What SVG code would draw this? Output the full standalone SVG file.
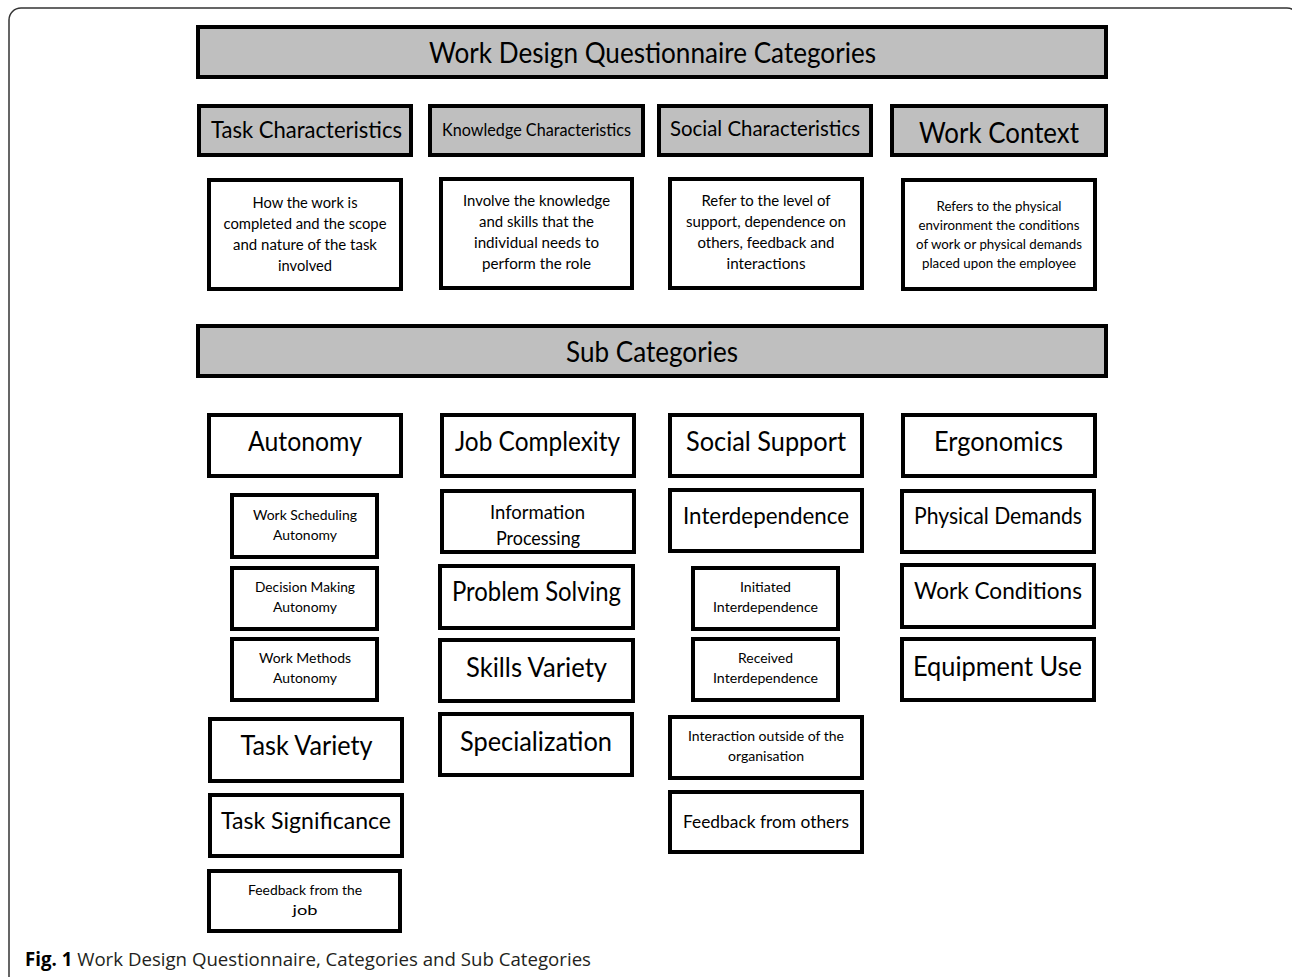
<svg xmlns="http://www.w3.org/2000/svg" width="1292" height="977" viewBox="0 0 1292 977">
<style>
.hdr{fill:#bfbfbf;stroke:#000;stroke-width:4}
.box{fill:#fff;stroke:#000;stroke-width:4}
text{font-family:Lato,"Liberation Sans",sans-serif;fill:#000;text-anchor:middle}
.t28{font-size:28px}
.t26{font-size:26px}
.t24{font-size:24px}
.t22{font-size:22px}
.t19{font-size:19px}
.t18{font-size:18px}
.t15{font-size:15.5px}
.t14{font-size:14px}
.cap{font-family:"Open Sans","Noto Sans",sans-serif;font-size:19px;text-anchor:start;fill:#231f20}
</style>
<rect x="9" y="8" width="1290" height="985" rx="12" fill="none" stroke="#333" stroke-width="1.5"/>
<g id="connectors"></g>

<g id="title"><rect class="hdr" x="198" y="27" width="908" height="50"/><text class="t28" x="652.5" y="63" textLength="447" lengthAdjust="spacingAndGlyphs">Work Design Questionnaire Categories</text></g>

<g id="task-char"><rect class="hdr" x="199" y="106" width="212" height="49"/><text class="t24" x="306.5" y="138" textLength="191" lengthAdjust="spacingAndGlyphs">Task Characteristics</text></g>
<g id="knowledge-char"><rect class="hdr" x="430" y="106" width="213" height="49"/><text class="t18" x="536.5" y="136" textLength="189" lengthAdjust="spacingAndGlyphs">Knowledge Characteristics</text></g>
<g id="social-char"><rect class="hdr" x="659" y="106" width="212" height="49"/><text class="t22" x="765" y="136" textLength="190" lengthAdjust="spacingAndGlyphs">Social Characteristics</text></g>
<g id="work-context"><rect class="hdr" x="892" y="106" width="214" height="49"/><text class="t28" x="999" y="143" textLength="160" lengthAdjust="spacingAndGlyphs">Work Context</text></g>

<g id="task-desc"><rect class="box" x="209" y="180" width="192" height="109"/>
<text class="t15" x="305" y="208" textLength="105" lengthAdjust="spacingAndGlyphs">How the work is</text>
<text class="t15" x="305" y="229" textLength="163" lengthAdjust="spacingAndGlyphs">completed and the scope</text>
<text class="t15" x="305" y="250" textLength="144" lengthAdjust="spacingAndGlyphs">and nature of the task</text>
<text class="t15" x="305" y="271" textLength="54" lengthAdjust="spacingAndGlyphs">involved</text></g>
<g id="knowledge-desc"><rect class="box" x="441" y="179" width="191" height="109"/>
<text class="t15" x="536.5" y="206" textLength="147" lengthAdjust="spacingAndGlyphs">Involve the knowledge</text>
<text class="t15" x="536.5" y="227" textLength="115" lengthAdjust="spacingAndGlyphs">and skills that the</text>
<text class="t15" x="536.5" y="248" textLength="125" lengthAdjust="spacingAndGlyphs">individual needs to</text>
<text class="t15" x="536.5" y="269" textLength="109" lengthAdjust="spacingAndGlyphs">perform the role</text></g>
<g id="social-desc"><rect class="box" x="670" y="179" width="192" height="109"/>
<text class="t15" x="766" y="206" textLength="129" lengthAdjust="spacingAndGlyphs">Refer to the level of</text>
<text class="t15" x="766" y="227" textLength="160" lengthAdjust="spacingAndGlyphs">support, dependence on</text>
<text class="t15" x="766" y="248" textLength="137" lengthAdjust="spacingAndGlyphs">others, feedback and</text>
<text class="t15" x="766" y="269" textLength="79" lengthAdjust="spacingAndGlyphs">interactions</text></g>
<g id="context-desc"><rect class="box" x="903" y="180" width="192" height="109"/>
<text class="t14" x="999" y="211" textLength="125" lengthAdjust="spacingAndGlyphs">Refers to the physical</text>
<text class="t14" x="999" y="230" textLength="161" lengthAdjust="spacingAndGlyphs">environment the conditions</text>
<text class="t14" x="999" y="249" textLength="166" lengthAdjust="spacingAndGlyphs">of work or physical demands</text>
<text class="t14" x="999" y="268" textLength="154" lengthAdjust="spacingAndGlyphs">placed upon the employee</text></g>

<g id="sub-categories"><rect class="hdr" x="198" y="326" width="908" height="50"/><text class="t28" x="652" y="362" textLength="172" lengthAdjust="spacingAndGlyphs">Sub Categories</text></g>

<g id="autonomy"><rect class="box" x="209" y="415" width="192" height="61"/><text class="t26" x="305" y="451" textLength="114" lengthAdjust="spacingAndGlyphs">Autonomy</text></g>
<g id="job-complexity"><rect class="box" x="442" y="415" width="192" height="61"/><text class="t26" x="537.5" y="451" textLength="165" lengthAdjust="spacingAndGlyphs">Job Complexity</text></g>
<g id="social-support"><rect class="box" x="670" y="415" width="192" height="61"/><text class="t26" x="766" y="451" textLength="160" lengthAdjust="spacingAndGlyphs">Social Support</text></g>
<g id="ergonomics"><rect class="box" x="903" y="415" width="192" height="61"/><text class="t26" x="998.5" y="451" textLength="129" lengthAdjust="spacingAndGlyphs">Ergonomics</text></g>

<g id="work-scheduling"><rect class="box" x="232" y="495" width="145" height="62"/>
<text class="t14" x="305" y="520" textLength="104" lengthAdjust="spacingAndGlyphs">Work Scheduling</text>
<text class="t14" x="305" y="540" textLength="64" lengthAdjust="spacingAndGlyphs">Autonomy</text></g>
<g id="information-processing"><rect class="box" x="442" y="491" width="192" height="61"/>
<text class="t19" x="537.5" y="519" textLength="95" lengthAdjust="spacingAndGlyphs">Information</text>
<text class="t19" x="538" y="545" textLength="84" lengthAdjust="spacingAndGlyphs">Processing</text></g>
<g id="interdependence"><rect class="box" x="670" y="490" width="192" height="61"/><text class="t24" x="766" y="524" textLength="166" lengthAdjust="spacingAndGlyphs">Interdependence</text></g>
<g id="physical-demands"><rect class="box" x="902" y="491" width="192" height="61"/><text class="t24" x="998" y="524" textLength="168" lengthAdjust="spacingAndGlyphs">Physical Demands</text></g>

<g id="decision-making"><rect class="box" x="232" y="568" width="145" height="61"/>
<text class="t14" x="305" y="592" textLength="100" lengthAdjust="spacingAndGlyphs">Decision Making</text>
<text class="t14" x="305" y="612" textLength="64" lengthAdjust="spacingAndGlyphs">Autonomy</text></g>
<g id="problem-solving"><rect class="box" x="440" y="566" width="193" height="62"/><text class="t26" x="536.5" y="601" textLength="169" lengthAdjust="spacingAndGlyphs">Problem Solving</text></g>
<g id="initiated"><rect class="box" x="693" y="568" width="145" height="61"/>
<text class="t14" x="765.5" y="592" textLength="51" lengthAdjust="spacingAndGlyphs">Initiated</text>
<text class="t14" x="765.5" y="612" textLength="105" lengthAdjust="spacingAndGlyphs">Interdependence</text></g>
<g id="work-conditions"><rect class="box" x="902" y="565" width="192" height="62"/><text class="t24" x="998" y="599" textLength="168" lengthAdjust="spacingAndGlyphs">Work Conditions</text></g>

<g id="work-methods"><rect class="box" x="232" y="639" width="145" height="61"/>
<text class="t14" x="305" y="663" textLength="92" lengthAdjust="spacingAndGlyphs">Work Methods</text>
<text class="t14" x="305" y="683" textLength="64" lengthAdjust="spacingAndGlyphs">Autonomy</text></g>
<g id="skills-variety"><rect class="box" x="440" y="640" width="193" height="61"/><text class="t26" x="536.5" y="677" textLength="141" lengthAdjust="spacingAndGlyphs">Skills Variety</text></g>
<g id="received"><rect class="box" x="693" y="639" width="145" height="61"/>
<text class="t14" x="765.5" y="663" textLength="55" lengthAdjust="spacingAndGlyphs">Received</text>
<text class="t14" x="765.5" y="683" textLength="105" lengthAdjust="spacingAndGlyphs">Interdependence</text></g>
<g id="equipment-use"><rect class="box" x="902" y="639" width="192" height="61"/><text class="t26" x="997.5" y="676" textLength="169" lengthAdjust="spacingAndGlyphs">Equipment Use</text></g>

<g id="task-variety"><rect class="box" x="210" y="719" width="192" height="62"/><text class="t26" x="306.5" y="755" textLength="132" lengthAdjust="spacingAndGlyphs">Task Variety</text></g>
<g id="specialization"><rect class="box" x="440" y="714" width="192" height="61"/><text class="t26" x="536" y="751" textLength="152" lengthAdjust="spacingAndGlyphs">Specialization</text></g>
<g id="interaction-outside"><rect class="box" x="670" y="717" width="192" height="61"/>
<text class="t14" x="766" y="741" textLength="156" lengthAdjust="spacingAndGlyphs">Interaction outside of the</text>
<text class="t14" x="766" y="761" textLength="76" lengthAdjust="spacingAndGlyphs">organisation</text></g>

<g id="task-significance"><rect class="box" x="210" y="795" width="192" height="61"/><text class="t24" x="306" y="829" textLength="170" lengthAdjust="spacingAndGlyphs">Task Significance</text></g>
<g id="feedback-others"><rect class="box" x="670" y="792" width="192" height="60"/><text class="t18" x="766" y="828" textLength="166" lengthAdjust="spacingAndGlyphs">Feedback from others</text></g>

<g id="feedback-job"><rect class="box" x="209" y="871" width="191" height="60"/>
<text class="t14" x="305" y="895" textLength="114" lengthAdjust="spacingAndGlyphs">Feedback from the</text>
<text class="t14" x="305" y="915" textLength="25" lengthAdjust="spacingAndGlyphs">job</text></g>

<g id="caption"><text class="cap" x="25" y="966" textLength="566" lengthAdjust="spacingAndGlyphs"><tspan font-weight="bold" fill="#000">Fig. 1</tspan> Work Design Questionnaire, Categories and Sub Categories</text></g>
</svg>
